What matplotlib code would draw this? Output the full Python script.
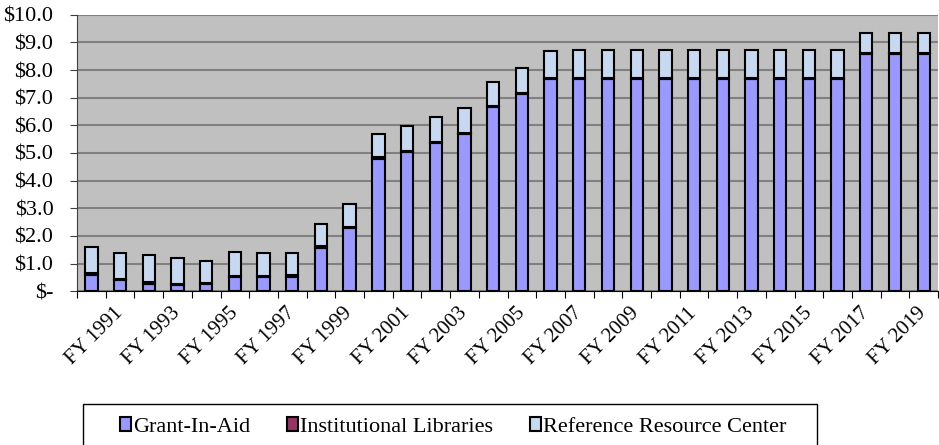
import numpy as np
import matplotlib
matplotlib.use('Agg')
import matplotlib.pyplot as plt
from matplotlib.ticker import FuncFormatter
from matplotlib.patches import Rectangle

plt.rcParams['font.family'] = ['Liberation Serif', 'DejaVu Serif']

years = ['FY %d' % y for y in range(1990, 2020)]
# bar totals and grant segment, $ millions
totals = [1.60, 1.40, 1.31, 1.19, 1.11, 1.43, 1.37, 1.40, 2.44, 3.17,
          5.69, 5.98, 6.30, 6.61, 7.58, 8.09, 8.69, 8.74, 8.74, 8.74,
          8.74, 8.74, 8.74, 8.74, 8.74, 8.74, 8.74, 9.33, 9.33, 9.33]
grant = [0.60, 0.40, 0.28, 0.23, 0.26, 0.52, 0.52, 0.53, 1.57, 2.28,
         4.80, 5.04, 5.36, 5.69, 6.65, 7.13, 7.67, 7.67, 7.67, 7.67,
         7.67, 7.67, 7.67, 7.67, 7.67, 7.67, 7.67, 8.58, 8.58, 8.58]
inst = [0.05] * 30
rrc = [t - g - i for t, g, i in zip(totals, grant, inst)]

fig = plt.figure(figsize=(9.39, 4.45), dpi=100)
ax = fig.add_axes([0.082, 0.3454, 0.917, 0.6216])
ax.set_facecolor('#c0c0c0')

x = np.arange(len(years))
w = 0.43
b1 = ax.bar(x, grant, w, color='#9999ff', edgecolor='black', lw=1.5, label='Grant-In-Aid', zorder=3)
b2 = ax.bar(x, inst, w, bottom=grant, color='#993366', edgecolor='black', lw=1.5,
            label='Institutional Libraries', zorder=3)
bot = [g + i for g, i in zip(grant, inst)]
b3 = ax.bar(x, rrc, w, bottom=bot, color='#c6d9f0', edgecolor='black', lw=1.5,
            label='Reference Resource Center', zorder=3)

ax.set_xlim(-0.5, len(years) - 0.5)
ax.set_ylim(0, 10)
ax.set_yticks(np.arange(0, 11, 1))
ax.yaxis.set_major_formatter(FuncFormatter(lambda v, p: '$-' if v == 0 else '$%.1f' % v))
ax.yaxis.grid(True, color='#808080', lw=1.5, zorder=1)
ax.set_axisbelow(True)

ax.set_xticks(np.arange(-0.5, len(years), 1), minor=False)
ax.set_xticklabels([])
ax.set_xticks(x[1::2], minor=True)
ax.set_xticklabels(years[1::2], minor=True, rotation=45, ha='right', va='center',
                   rotation_mode='anchor', fontsize=15)
ax.tick_params(axis='x', which='major', direction='out', length=5, color='black')
ax.tick_params(axis='x', which='minor', length=0, pad=14)
ax.tick_params(axis='y', direction='out', length=5, labelsize=16, pad=12, color='#404040')

for s in ['top', 'right']:
    ax.spines[s].set_visible(False)
ax.spines['left'].set_color('#404040')
ax.spines['bottom'].set_color('black')

# legend box drawn separately, runs off the bottom edge
fig.patches.append(Rectangle((83 / 939, -0.02), (817 - 83) / 939, 0.02 + (445 - 404) / 445,
                             transform=fig.transFigure, fill=False, edgecolor='black', lw=1.0))
leg = fig.legend(handles=[b1, b2, b3], loc='center left', bbox_to_anchor=(120 / 939, 1 - 427 / 445),
                 ncol=3, fontsize=16, frameon=False, handlelength=0.5, handleheight=0.6,
                 handletextpad=0.1, borderaxespad=0, borderpad=0, columnspacing=1.65)

fig.savefig('out.png', dpi=100)
